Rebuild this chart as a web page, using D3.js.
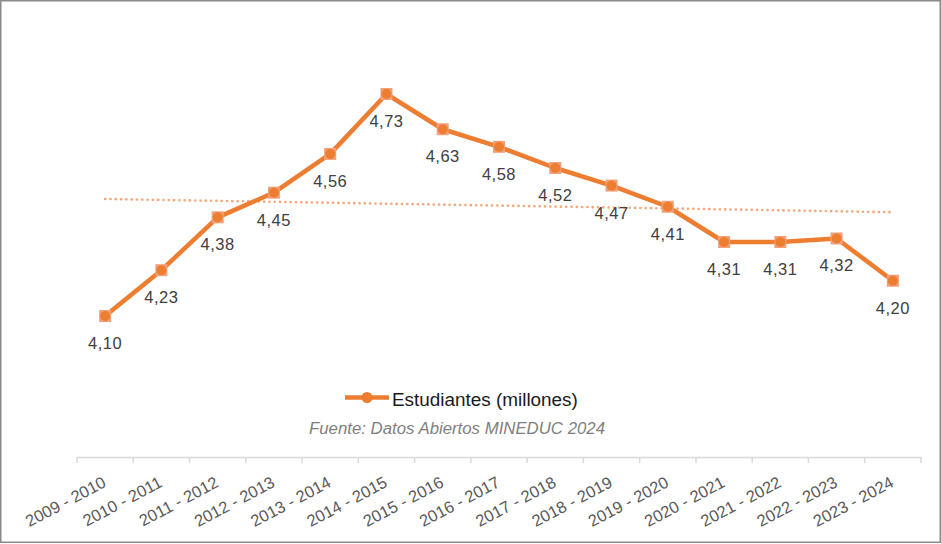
<!DOCTYPE html>
<html><head><meta charset="utf-8">
<script src="https://cdn.jsdelivr.net/npm/d3@7"></script>
<style>html,body{margin:0;padding:0;background:#fff;}svg{display:block;}</style>
</head><body>
<script>
const categories = ["2009 - 2010","2010 - 2011","2011 - 2012","2012 - 2013","2013 - 2014","2014 - 2015","2015 - 2016","2016 - 2017","2017 - 2018","2018 - 2019","2019 - 2020","2020 - 2021","2021 - 2022","2022 - 2023","2023 - 2024"];
const values = [4.10,4.23,4.38,4.45,4.56,4.73,4.63,4.58,4.52,4.47,4.41,4.31,4.31,4.32,4.20];
const seriesName = "Estudiantes (millones)";
const sourceText = "Fuente: Datos Abiertos MINEDUC 2024";

const W = 941, H = 544;
const svg = d3.select("body").append("svg").attr("width", W).attr("height", H);
svg.append("rect").attr("x",0.75).attr("y",0.75).attr("width",939.5).attr("height",541.5)
  .attr("fill","#fff").attr("stroke","#8a8a8a").attr("stroke-width",1.5);

const x = d3.scaleBand().domain(categories).range([77, 921]).padding(0);
const y = d3.scaleLinear().domain([4.10, 4.73]).range([316, 94]);
const cx = d => x(d) + x.bandwidth()/2;
const orange = "#ED7D31";

// axis
const axisY = 457;
const axis = d3.axisBottom(x).tickSize(6).tickFormat("");
const gA = svg.append("g").attr("transform", `translate(0,${axisY})`).call(axis);
gA.select(".domain").attr("stroke","#d9d9d9").attr("stroke-width",1.5).attr("d","M77,0.5H921");
gA.selectAll(".tick line").remove();
const edges = categories.map(c => x(c)).concat([x.range()[1]]);
gA.selectAll("line.edge").data(edges).join("line").attr("class","edge")
  .attr("x1", d=>d).attr("x2", d=>d).attr("y1",0).attr("y2",6)
  .attr("stroke","#d9d9d9").attr("stroke-width",1.5);

svg.append("g").selectAll("text").data(categories).join("text")
  .attr("transform", d => `translate(${cx(d)+2},${486}) rotate(-28)`)
  .attr("text-anchor","end")
  .attr("font-family","'Liberation Sans', Arial, sans-serif")
  .attr("font-size",16.5).attr("fill","#595959")
  .text(d => d);

// trend line (linear regression)
const n = values.length;
const xs = d3.range(n);
const mx = d3.mean(xs), my = d3.mean(values);
const slope = d3.sum(xs, i => (i-mx)*(values[i]-my)) / d3.sum(xs, i => (i-mx)*(i-mx));
const icpt = my - slope*mx;
const xi = d3.scaleLinear().domain([0, n-1]).range([cx(categories[0]), cx(categories[n-1])]);
svg.append("line")
  .attr("x1", xi(0)).attr("y1", y(icpt))
  .attr("x2", xi(n-1)).attr("y2", y(icpt + slope*(n-1)))
  .attr("stroke","#F4A77A").attr("stroke-width",2.6)
  .attr("stroke-dasharray","0.1,5.2").attr("stroke-linecap","round");

// series line
const line = d3.line().x((d,i)=>cx(categories[i])).y(d=>y(d));
svg.append("path").datum(values).attr("d", line)
  .attr("fill","none").attr("stroke",orange).attr("stroke-width",4.5).attr("stroke-linejoin","round");

// markers
const gM = svg.append("g");
gM.selectAll("rect").data(values).join("rect")
  .attr("x",(d,i)=>cx(categories[i])-6).attr("y",d=>y(d)-6)
  .attr("width",12).attr("height",12).attr("fill","#F2A07A");
gM.selectAll("circle").data(values).join("circle")
  .attr("cx",(d,i)=>cx(categories[i])).attr("cy",d=>y(d)).attr("r",5).attr("fill",orange);

// data labels
const fmt = d3.formatLocale({decimal:",", thousands:".", grouping:[3], currency:["",""]}).format(".2f");
svg.append("g").selectAll("text").data(values).join("text")
  .attr("x",(d,i)=>cx(categories[i])).attr("y",d=>y(d)+33)
  .attr("text-anchor","middle")
  .attr("font-family","'Liberation Sans', Arial, sans-serif")
  .attr("font-size",16.5).attr("letter-spacing",0.5).attr("fill","#404040")
  .text(d => fmt(d));

// legend
const lg = svg.append("g");
lg.append("line").attr("x1",345).attr("x2",389).attr("y1",397.5).attr("y2",397.5)
  .attr("stroke",orange).attr("stroke-width",4.5);
lg.append("circle").attr("cx",367).attr("cy",397.5).attr("r",5.5).attr("fill",orange);
lg.append("text").attr("x",392).attr("y",406)
  .attr("font-family","'Liberation Sans', Arial, sans-serif")
  .attr("font-size",18.9).attr("fill","#1a1a1a").text(seriesName);

svg.append("text").attr("x",457).attr("y",434).attr("text-anchor","middle")
  .attr("font-family","'Liberation Sans', Arial, sans-serif").attr("font-style","italic")
  .attr("font-size",16.8).attr("fill","#7f7f7f").text(sourceText);
</script>
</body></html>
